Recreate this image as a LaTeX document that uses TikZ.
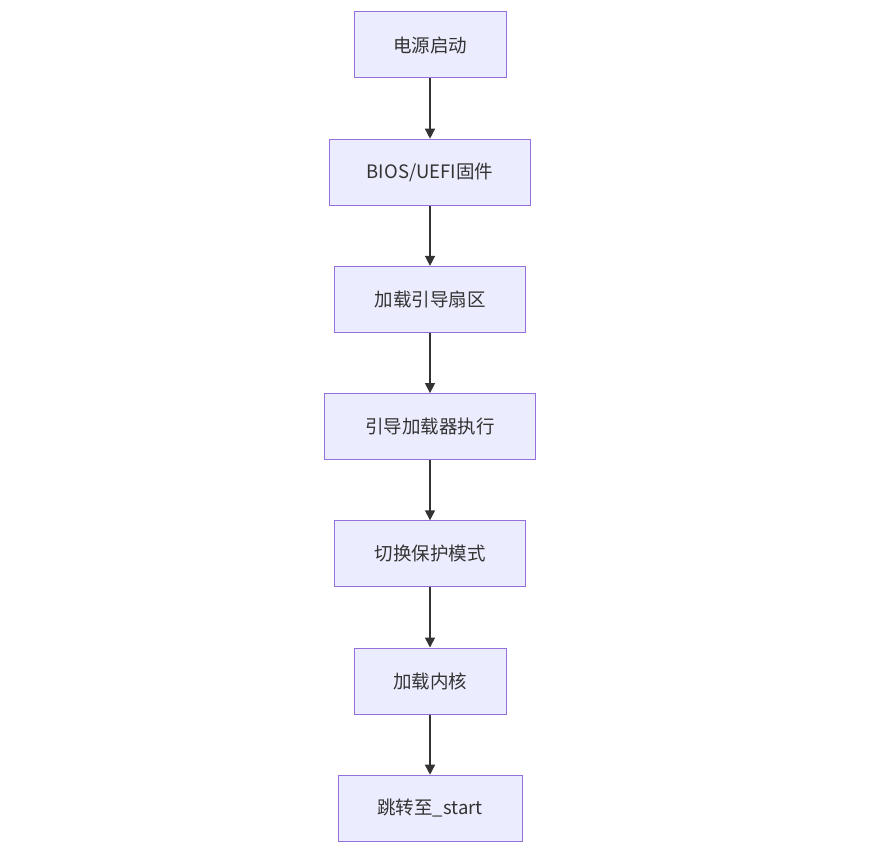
\documentclass[tikz,border=0pt]{standalone}
\usepackage{fontspec}
\setmainfont{Noto Sans CJK SC}
\usetikzlibrary{positioning,arrows.meta}
\definecolor{boxfill}{HTML}{ECECFF}
\definecolor{boxline}{HTML}{9370DB}
\definecolor{darkline}{HTML}{333333}
\tikzset{
	stepbox/.style={draw=boxline,fill=boxfill,line width=1pt,text=darkline,
		minimum height=66pt,inner sep=0pt,font=\fontsize{18.5pt}{22pt}\selectfont},
	flow/.style={draw=darkline,line width=1.5pt,-{Triangle[length=10pt,width=10pt]}}
}
\begin{document}
\begin{tikzpicture}[x=1pt,y=1pt,node distance=60.2pt]
	\useasboundingbox (0,0) rectangle (893,-856);
	\node[stepbox,minimum width=152pt] (power) at (430,-45) {电源启动};
	\node[stepbox,minimum width=201pt,below=of power] (bios) {BIOS/UEFI固件};
	\node[stepbox,minimum width=191pt,below=of bios] (sector) {加载引导扇区};
	\node[stepbox,minimum width=211pt,below=of sector] (loader) {引导加载器执行};
	\node[stepbox,minimum width=191pt,below=of loader] (pmode) {切换保护模式};
	\node[stepbox,minimum width=152pt,below=of pmode] (kernel) {加载内核};
	\node[stepbox,minimum width=184pt,below=of kernel] (start) {跳转至\_start};
	\draw[flow] (power) -- (bios);
	\draw[flow] (bios) -- (sector);
	\draw[flow] (sector) -- (loader);
	\draw[flow] (loader) -- (pmode);
	\draw[flow] (pmode) -- (kernel);
	\draw[flow] (kernel) -- (start);
\end{tikzpicture}
\end{document}
